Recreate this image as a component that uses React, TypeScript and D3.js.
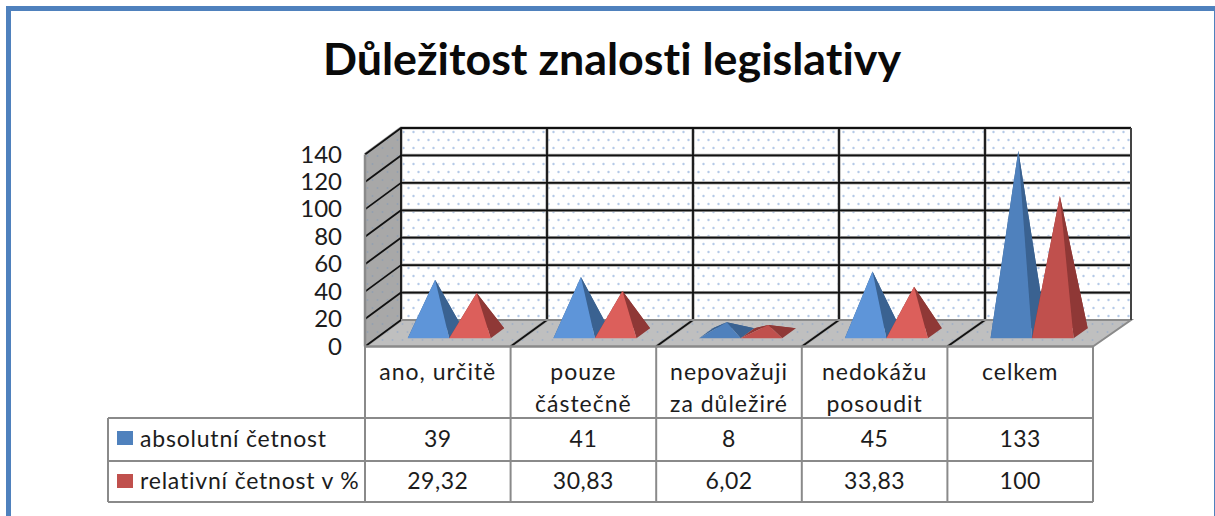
import React from "react";
import * as d3 from "d3";

const title = "Důležitost znalosti legislativy";
const categories = ["ano, určitě", "pouze částečně", "nepovažuji za důležiré", "nedokážu posoudit", "celkem"];
const categoryLines = [["ano, určitě"], ["pouze", "částečně"], ["nepovažuji", "za důležiré"], ["nedokážu", "posoudit"], ["celkem"]];
const absoluteValues = [39, 41, 8, 45, 133];
const relativeValues = [29.32, 30.83, 6.02, 33.83, 100];
const relativeLabels = ["29,32", "30,83", "6,02", "33,83", "100"];
const seriesNames = ["absolutní četnost", "relativní četnost v %"];
const yTicks = [0, 20, 40, 60, 80, 100, 120, 140];

const FONT = "Lato, Carlito, Calibri, sans-serif";
const GREY = "#8a8a8a";
const INK = "#1c1c1c";
const palette = [
  { base: "#4f81bd", light: "#5e95d9", side: "#3a6291" },
  { base: "#c0504d", light: "#dc5f5b", side: "#8f3836" },
];

export default function App() {
  const x = d3.scaleBand<string>().domain(categories).range([365, 1093]);
  const y = d3.scaleLinear().domain([0, 140]).range([320, 128]);
  const depthY = 26.5;
  const project = (u: number, d: number, v: number): [number, number] => [
    u + d * (36 + ((u - 365) * 2) / 728),
    y(v) + depthY * (1 - d),
  ];
  const step = x.bandwidth();
  const pyramidWidth = step * 0.285;
  const d0 = 0.315;
  const d1 = 0.685;
  const path = (pts: [number, number][]) => d3.line()(pts) + "Z";

  const frontLeft = x.range()[0];
  const frontRight = x.range()[1];
  const edges = [...categories.map((c) => x(c) as number), frontRight];
  const backTL = project(frontLeft, 1, 140);
  const backBR = project(frontRight, 1, 0);

  const pyramids = categories.flatMap((c, i) =>
    [absoluteValues[i], relativeValues[i]].map((v, s) => {
      const left = (x(c) as number) + step / 2 - pyramidWidth + s * pyramidWidth;
      const right = left + pyramidWidth;
      const apex = project((left + right) / 2, 0.5, v);
      const flatOrTall = v < 10 || v >= 100;
      const col = palette[s];
      return (
        <g key={c + s}>
          <path d={path([project(left, d0, 0), project(left, d1, 0), apex])} fill={col.side} />
          <path d={path([project(left, d1, 0), project(right, d1, 0), apex])} fill={col.side} />
          <path d={path([project(right, d0, 0), project(right, d1, 0), apex])} fill={col.side} />
          <path d={path([project(left, d0, 0), project(right, d0, 0), apex])} fill={flatOrTall ? col.base : col.light} />
        </g>
      );
    })
  );

  const tableLeft = 108;
  const rows = [346, 418, 461, 502];
  const common = { fontFamily: FONT, fill: INK, style: { fontVariantLigatures: "none" } };
  const gridStroke = { fill: "none", strokeLinejoin: "round" as const };

  return (
    <svg width={1215} height={516} style={{ position: "absolute", left: 0, top: 0, background: "#fff" }}>
      <defs>
        <pattern id="wallDots" width="10" height="16" patternUnits="userSpaceOnUse" x={401} y={128}>
          <rect width="10" height="16" fill="#fff" />
          <circle cx="2.5" cy="4" r="1.2" fill="#b5cae8" />
          <circle cx="7.5" cy="12" r="1.2" fill="#b5cae8" />
        </pattern>
        <pattern id="floorDots" width="10" height="16" patternUnits="userSpaceOnUse">
          <rect width="10" height="16" fill="#bfbfbf" />
          <circle cx="2.5" cy="4" r="1" fill="#a3b1c6" />
          <circle cx="7.5" cy="12" r="1" fill="#a3b1c6" />
        </pattern>
        <pattern id="sideDots" width="10" height="16" patternUnits="userSpaceOnUse">
          <rect width="10" height="16" fill="#a8a8a8" />
          <circle cx="2.5" cy="4" r="1" fill="#94a0b0" />
          <circle cx="7.5" cy="12" r="1" fill="#94a0b0" />
        </pattern>
      </defs>

      <rect x={8.5} y={8.5} width={1208} height={530} fill="#fff" stroke="#4f81bd" strokeWidth={5} />

      <text x={612} y={75} textAnchor="middle" fontSize={44.8} fontWeight={700} fontFamily={FONT} fill="#0a0a0a" style={{ fontVariantLigatures: "none" }}>{title}</text>

      {/* walls and floor */}
      <rect x={backTL[0]} y={backTL[1]} width={backBR[0] - backTL[0]} height={backBR[1] - backTL[1]} fill="url(#wallDots)" />
      <path d={path([project(frontLeft, 0, 0), project(frontLeft, 0, 140), project(frontLeft, 1, 140), project(frontLeft, 1, 0)])} fill="url(#sideDots)" />
      <path d={path([project(frontLeft, 0, 0), project(frontRight, 0, 0), project(frontRight, 1, 0), project(frontLeft, 1, 0)])} fill="url(#floorDots)" />

      {/* gridlines: soft grey halo below a dark core */}
      {["#a6a6a6", "#111"].map((stroke, layer) => (
        <g key={stroke} {...gridStroke} stroke={stroke} strokeWidth={layer === 0 ? 3.2 : 1.8}>
          {yTicks.slice(1).map((t) => (
            <path key={t} d={d3.line()([project(frontLeft, 0, t), project(frontLeft, 1, t), project(frontRight, 1, t)]) as string} />
          ))}
          {edges.slice(0, -1).map((e, i) => (
            <path key={i} d={d3.line()([project(e, 0, 0), project(e, 1, 0), project(e, 1, 140)]) as string} />
          ))}
        </g>
      ))}
      <path d={d3.line()([project(frontLeft, 1, 0), project(frontRight, 1, 0), project(frontRight, 0, 0)]) as string} stroke={GREY} strokeWidth={2} fill="none" />
      <path d={d3.line()([project(frontRight, 1, 0), project(frontRight, 1, 140)]) as string} stroke="#444" strokeWidth={2} fill="none" />
      <path d={d3.line()([project(frontLeft, 0, 0), project(frontLeft, 0, 140)]) as string} stroke={GREY} strokeWidth={2.5} fill="none" />
      <path d={d3.line()([project(frontLeft, 0, 0), project(frontRight, 0, 0)]) as string} stroke={GREY} strokeWidth={2.5} fill="none" />

      {pyramids}

      {/* y axis labels */}
      {yTicks.map((t) => (
        <text key={t} x={342} y={y(t) + 26.5 - 0.5} dy="0.36em" textAnchor="end" fontSize={24} {...common}>{t}</text>
      ))}

      {/* data table */}
      <g stroke={GREY} strokeWidth={2} fill="none">
        {edges.map((e) => <line key={e} x1={e} x2={e} y1={rows[0]} y2={rows[3]} />)}
        <line x1={tableLeft} x2={tableLeft} y1={rows[1]} y2={rows[3]} />
        {rows.slice(1).map((r) => <line key={r} x1={tableLeft} x2={frontRight} y1={r} y2={r} />)}
      </g>
      {categories.map((c, i) => (
        <g key={c}>
          {categoryLines[i].map((ln, k) => (
            <text key={ln} x={(x(c) as number) + step / 2} y={372 + k * 32} dy="0.36em" textAnchor="middle" fontSize={23} letterSpacing={1} {...common}>{ln}</text>
          ))}
          <text x={(x(c) as number) + step / 2} y={439} dy="0.36em" textAnchor="middle" fontSize={23} letterSpacing={0.5} {...common}>{absoluteValues[i]}</text>
          <text x={(x(c) as number) + step / 2} y={481} dy="0.36em" textAnchor="middle" fontSize={23} letterSpacing={0.5} {...common}>{relativeLabels[i]}</text>
        </g>
      ))}
      {seriesNames.map((n, s) => (
        <g key={n}>
          <rect x={117} y={s === 0 ? 431 : 474} width={16} height={14} fill={palette[s].base} />
          <text x={140} y={s === 0 ? 439 : 481} dy="0.36em" fontSize={23} letterSpacing={0.8} {...common}>{n}</text>
        </g>
      ))}
    </svg>
  );
}
